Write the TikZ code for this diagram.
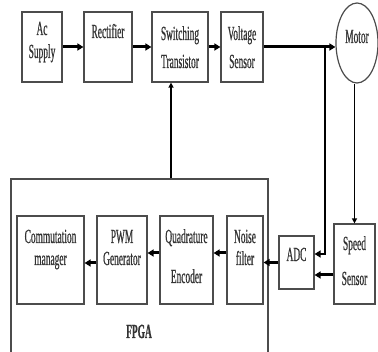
\documentclass[tikz,border=0pt]{standalone}
\usepackage{fontspec}
\newfontfamily\dfont{Liberation Serif}[FakeStretch=0.47,FakeBold=0.6]
\usetikzlibrary{arrows.meta,shapes.geometric}
\tikzset{
  box/.style={draw=black!70, line width=1.2pt, fill=white, inner sep=0pt, rectangle},
  txt/.style={anchor=base, inner sep=0pt, text=black!80, font=\dfont\fontsize{20}{22}\selectfont},
  thickarrow/.style={draw=black, line width=3pt, -{Triangle[length=6pt,width=7pt]}},
  medarrow/.style={draw=black, line width=2pt, -{Triangle[length=6pt,width=7pt]}},
  thinarrow/.style={draw=black, line width=1.5pt, -{Triangle[length=5pt,width=5pt]}},
}
\begin{document}
\begin{tikzpicture}[x=1pt,y=-1pt]
\useasboundingbox (0,0) rectangle (378,352);
\clip (0,0) rectangle (378,352);
\fill[white] (0,0) rectangle (378,352);

% top row
\node[box, minimum width=40pt, minimum height=70pt] (ac) at (42,47) {};
\node[box, minimum width=48pt, minimum height=70pt] (rect) at (108,47) {};
\node[box, minimum width=56pt, minimum height=70pt] (sw) at (180,47) {};
\node[box, minimum width=42pt, minimum height=70pt] (volt) at (242,47) {};
\node[box, ellipse, minimum width=42pt, minimum height=80pt] (motor) at (357,43) {};

% FPGA
\node[box, minimum width=257pt, minimum height=181pt] (fpga) at (139.5,269.5) {};
\node[box, minimum width=67pt, minimum height=88pt] (comm) at (50.5,260) {};
\node[box, minimum width=50pt, minimum height=88pt] (pwm) at (122,260) {};
\node[box, minimum width=53pt, minimum height=88pt] (quad) at (186.5,260) {};
\node[box, minimum width=36pt, minimum height=88pt] (noise) at (245,260) {};
\node[box, minimum width=35pt, minimum height=53pt] (adc) at (296.5,262.5) {};
\node[box, minimum width=41pt, minimum height=80pt] (speed) at (354.5,264) {};

% texts
\node[txt] (tac1) at (42,35) {Ac};
\node[txt] (tac2) at (42,58) {Supply};
\node[txt] (trect) at (108,38) {Rectifier};
\node[txt] (tsw1) at (180,40) {Switching};
\node[txt] (tsw2) at (180,68) {Transistor};
\node[txt] (tv1) at (242,40) {Voltage};
\node[txt] (tv2) at (242,68) {Sensor};
\node[txt] (tm) at (357,43) {Motor};
\node[txt] (tc1) at (50.5,243) {Commutation};
\node[txt] (tc2) at (50.5,265) {manager};
\node[txt] (tp1) at (122,243) {PWM};
\node[txt] (tp2) at (122,265) {Generator};
\node[txt] (tq1) at (186.5,243) {Quadrature};
\node[txt] (tq2) at (186.5,283) {Encoder};
\node[txt] (tn1) at (245,243) {Noise};
\node[txt] (tn2) at (245,265) {filter};
\node[txt] (tadc) at (296.5,261) {ADC};
\node[txt] (ts1) at (354.5,250) {Speed};
\node[txt] (ts2) at (354.5,285) {Sensor};
\node[txt, font=\dfont\bfseries\fontsize{20}{22}\selectfont] (tf) at (139,338) {FPGA};

% helper coordinates
\coordinate (j) at (325,47);
\coordinate (xft) at (171,0);
\coordinate (ymot) at (0,47);
\coordinate (yadc1) at (0,254);
\coordinate (yadc2) at (0,275);
\coordinate (ylow1) at (0,253);
\coordinate (ylow2) at (0,263);

% connectors top
\draw[thickarrow] (ac.east) -- (rect.west);
\draw[thickarrow] (rect.east) -- (sw.west);
\draw[thickarrow] (sw.east) -- (volt.west);
\draw[thickarrow] (volt.east) -- (motor.west |- ymot);
\draw[medarrow] (j) |- (adc.east |- yadc1);
\draw[thinarrow] (speed.north |- motor.south) -- (speed.north);
\draw[thinarrow] (fpga.north -| xft) -- (sw.south -| xft);

% connectors bottom
\draw[thickarrow] (speed.west |- yadc2) -- (adc.east |- yadc2);
\draw[thickarrow] (adc.west) -- (noise.east |- adc.west);
\draw[thickarrow] (noise.west |- ylow1) -- (quad.east |- ylow1);
\draw[thickarrow] (quad.west |- ylow1) -- (pwm.east |- ylow1);
\draw[thickarrow] (pwm.west |- ylow2) -- (comm.east |- ylow2);
\end{tikzpicture}
\end{document}
